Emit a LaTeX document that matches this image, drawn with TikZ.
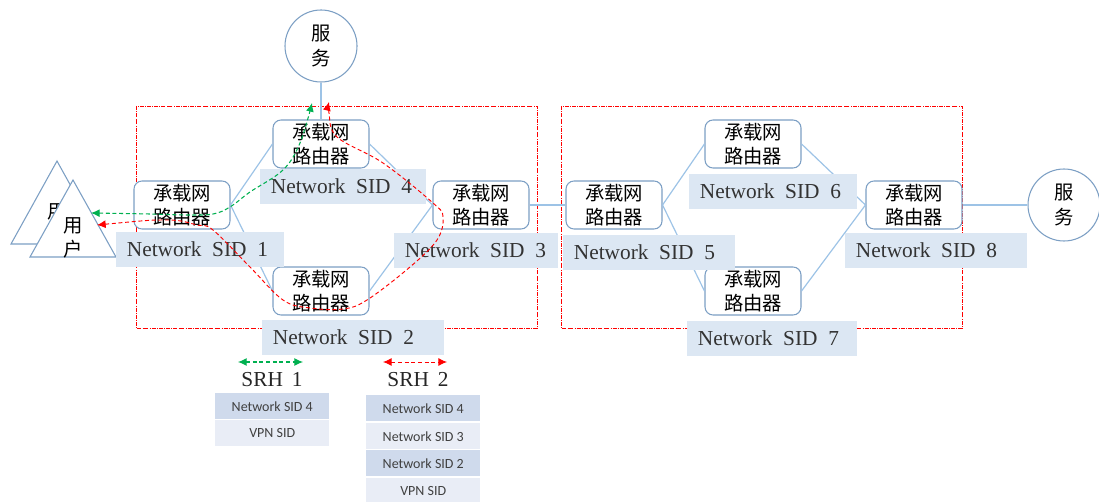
\documentclass[tikz,border=0pt]{standalone}
\usepackage{fontspec}
\usetikzlibrary{arrows.meta}
\setmainfont{Liberation Serif}
\newfontfamily\cjk{Noto Sans CJK SC}
\newfontfamily\cali{Carlito}
\definecolor{linkblue}{HTML}{9DC3E6}
\definecolor{edgeblue}{HTML}{7C9FC4}
\definecolor{sidfill}{HTML}{DCE7F3}
\definecolor{rowdark}{HTML}{CFDAEC}
\definecolor{rowlight}{HTML}{E9EDF6}
\definecolor{pathgreen}{HTML}{00B050}
\definecolor{pathred}{HTML}{FF0000}
\tikzset{
  >={Latex[length=6.5pt,width=6pt]},
  router/.style={draw=edgeblue, fill=white, rounded corners=6pt, line width=0.8pt, minimum width=72pt, minimum height=36pt, inner sep=0pt, align=center, font=\fontsize{14.5}{18}\cjk, execute at begin node={\rule{0pt}{15.5pt}}},
  service/.style={draw=edgeblue, fill=white, circle, line width=0.8pt, minimum size=54pt, inner sep=0pt, align=center, font=\fontsize{14.5}{18.5}\cjk, execute at begin node={\rule{0pt}{15.5pt}}},
  link/.style={draw=linkblue, line width=0.9pt},
  domain box/.style={draw=pathred, densely dash dot, line width=0.5pt},
  sidlabel/.style={fill=sidfill, anchor=north west, inner xsep=8pt, inner ysep=0pt, minimum height=26pt, align=left, text=black!80, font=\fontsize{16}{18}\selectfont},
  srhrow/.style={anchor=north west, minimum width=85.5pt, minimum height=19.5pt, inner sep=0pt, text=black!75, font=\fontsize{10.5}{12}\cali},
  srhname/.style={font=\fontsize{16}{18}\selectfont, text=black!85},
  userbox/.style={draw=edgeblue, fill=white, line width=0.8pt},
  usertext/.style={font=\fontsize{14.5}{18}\cjk},
  greenpath/.style={pathgreen, densely dashed, line width=0.8pt},
  redpath/.style={pathred, densely dashed, line width=0.7pt},
}
\begin{document}
\begin{tikzpicture}[x=0.75pt, y=-0.75pt]
\useasboundingbox (0,0) rectangle (1099,502);

% Domains
\draw[domain box] (136,106) rectangle (537,328);
\draw[domain box] (561,106) rectangle (962,328);

% Routers
\node[router] (r1) at (182,205) {承载网\\路由器};
\node[router] (r2) at (321,291) {承载网\\路由器};
\node[router] (r3) at (481,205) {承载网\\路由器};
\node[router] (r4) at (321,144) {承载网\\路由器};
\node[router] (r5) at (614,205) {承载网\\路由器};
\node[router] (r6) at (753,144) {承载网\\路由器};
\node[router] (r7) at (753,291) {承载网\\路由器};
\node[router] (r8) at (914,205) {承载网\\路由器};

% Services
\node[service] (srvtop) at (321,46) {服\\务};
\node[service] (srvright) at (1064,205) {服\\务};

% Users
\draw[userbox] (57,161) -- (103,244) -- (11,244) -- cycle;
\node[usertext] (userback) at (57,212) {用};
\draw[userbox] (73,180) -- (116,257) -- (30,257) -- cycle;
\node[usertext, align=center] (userfront) at (73,238) {用\\户};

% Links
\draw[link] (r1.east) -- (r4.west);
\draw[link] (r1.east) -- (r2.west);
\draw[link] (r4.east) -- (r3.west);
\draw[link] (r2.east) -- (r3.west);
\draw[link] (r3.east) -- (r5.west);
\draw[link] (r5.east) -- (r6.west);
\draw[link] (r5.east) -- (r7.west);
\draw[link] (r6.east) -- (r8.west);
\draw[link] (r7.east) -- (r8.west);
\draw[link] (r8.east) -- (srvright.west);
\draw[link] (r4.north) -- (srvtop.south);

% SID labels
\node[sidlabel, text width=110pt] (sid1) at (116,232) {Network~\,SID~\,1};
\node[sidlabel, text width=120pt] (sid2) at (262,320) {Network~\,SID~\,2};
\node[sidlabel, text width=107pt] (sid3) at (394,233) {Network~\,SID~\,3};
\node[sidlabel, text width=108pt] (sid4) at (260,169) {Network~\,SID~\,4};
\node[sidlabel, text width=113pt] (sid5) at (563,235) {Network~\,SID~\,5};
\node[sidlabel, text width=110pt] (sid6) at (689,174) {Network~\,SID~\,6};
\node[sidlabel, text width=111pt] (sid7) at (687,321) {Network~\,SID~\,7};
\node[sidlabel, text width=120pt] (sid8) at (845,233) {Network~\,SID~\,8};

% Green path
\draw[greenpath, <->] plot[smooth, tension=0.6] coordinates {(91,213) (150,214) (187,215) (213,214) (230,207) (250,192) (283,170) (300,143) (312,103)};

% Red path
\draw[redpath, <->] plot[smooth, tension=0.6] coordinates {(97,225) (167,220) (197,225) (213,230) (250,267) (283,300) (310,308) (343,309) (367,300) (410,267) (437,240) (443,217) (433,203) (383,163) (337,137) (329,113) (329,102)};

% SRH legend
\coordinate (g1) at (238,362);
\coordinate (g2) at (303,362);
\coordinate (h1) at (383,362);
\coordinate (h2) at (447,362);
\draw[greenpath, <->] (g1) -- (g2);
\draw[redpath, <->] (h1) -- (h2);
\node[srhname] (srh1) at (272,380) {SRH~\,1};
\node[srhname] (srh2) at (418,380) {SRH~\,2};

\node[srhrow, fill=rowdark] (a1) at (215,393) {Network SID 4};
\node[srhrow, fill=rowlight] (a2) at (215,420) {VPN SID};

\node[srhrow, fill=rowdark] (b1) at (366,395) {Network SID 4};
\node[srhrow, fill=rowlight] (b2) at (366,423) {Network SID 3};
\node[srhrow, fill=rowdark] (b3) at (366,450) {Network SID 2};
\node[srhrow, fill=rowlight] (b4) at (366,478) {VPN SID};

\end{tikzpicture}
\end{document}
